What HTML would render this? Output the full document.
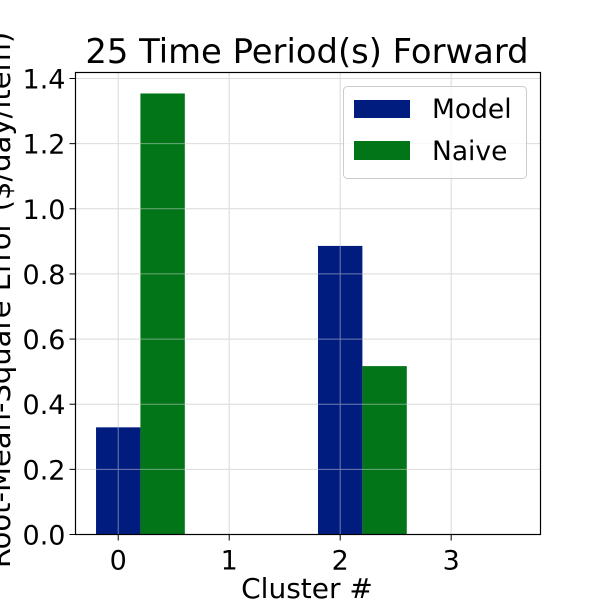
<!DOCTYPE html>
<html><head><meta charset="utf-8"><style>
body{margin:0;background:#fff}
svg{display:block;font-family:"DejaVu Sans","Liberation Sans",sans-serif}
</style></head><body>
<svg id="chart" width="600" height="600" viewBox="0 0 600 600">
<rect width="600" height="600" fill="#fff"/>
<text x="307" y="63" font-size="33.8" text-anchor="middle">25 Time Period(s) Forward</text>
<g id="grid"></g><g id="bars"></g><g id="grid2" opacity="0.5"></g><g id="axes"></g>
<text x="307" y="598" font-size="28" text-anchor="middle">Cluster #</text>
<text transform="translate(10,300) rotate(-90)" font-size="29" text-anchor="middle">Root-Mean-Square Error ($/day/item)</text>
<g>
<rect x="343.5" y="86.5" width="183" height="92" rx="4" fill="#fff" fill-opacity="0.8" stroke="#ccc"/>
<rect x="354" y="100" width="56" height="18" fill="#001c7f"/>
<text x="432" y="118" font-size="26.5">Model</text>
<rect x="354" y="141" width="56" height="19" fill="#017517"/>
<text x="432" y="160" font-size="26.5">Naive</text>
</g>
</svg>
<script>
const categories = [0, 1, 2, 3];
const modelValues = [0.329, 0, 0.886, 0];
const naiveValues = [1.354, 0, 0.517, 0];
const yTicks = [0, 0.2, 0.4, 0.6, 0.8, 1.0, 1.2, 1.4];
const yTickLabels = ["0.0","0.2","0.4","0.6","0.8","1.0","1.2","1.4"];

const L=75.5,R=540.5,T=72.5,B=534.5;
const xMin=-0.385,xMax=3.805;
const sx=v=>L+(v-xMin)/(xMax-xMin)*(R-L);
const sy=v=>B-v/1.4*(B-78.5);
const NS="http://www.w3.org/2000/svg";
function mk(tag,attrs,parent){const e=document.createElementNS(NS,tag);for(const k in attrs)e.setAttribute(k,attrs[k]);parent.appendChild(e);return e;}
const grid=document.getElementById('grid'),grid2=document.getElementById('grid2'),bars=document.getElementById('bars'),axes=document.getElementById('axes');
yTicks.forEach((t,i)=>{
  const y=sy(t);
  [grid,grid2].forEach(gp=>{
    const g=mk('line',{x1:L,x2:R,y1:y,y2:y,stroke:'#ddd','stroke-width':1},gp);
    
    
  });
  mk('line',{x1:L-6,x2:L,y1:y,y2:y,stroke:'#000','stroke-width':1},axes);
  const tx=mk('text',{x:L-10,y:y+10,'font-size':27,'text-anchor':'end'},axes);
  tx.textContent=yTickLabels[i];
  
  
});
categories.forEach(c=>{
  const x=sx(c);
  [grid,grid2].forEach(gp=>{
    const g=mk('line',{x1:x,x2:x,y1:T,y2:B,stroke:'#ddd','stroke-width':1},gp);
    
    
  });
  mk('line',{x1:x,x2:x,y1:B,y2:B+6,stroke:'#000','stroke-width':1},axes);
  const tx=mk('text',{x:x,y:B+35,'font-size':27,'text-anchor':'middle'},axes);
  tx.textContent=String(c);
  
  
});
const w=0.4;
categories.forEach((c,i)=>{
  const m=mk('rect',{x:sx(c-w/2),y:sy(modelValues[i]),width:sx(c+w/2)-sx(c-w/2),height:B-sy(modelValues[i]),fill:'#001c7f'},bars);
  
  
  const n=mk('rect',{x:sx(c+w/2),y:sy(naiveValues[i]),width:sx(c+3*w/2)-sx(c+w/2),height:B-sy(naiveValues[i]),fill:'#017517'},bars);
  
  
});
const fr=mk('rect',{x:L,y:T,width:R-L,height:B-T,fill:'none',stroke:'#000','stroke-width':1.2},axes);


</script>
</body></html>
